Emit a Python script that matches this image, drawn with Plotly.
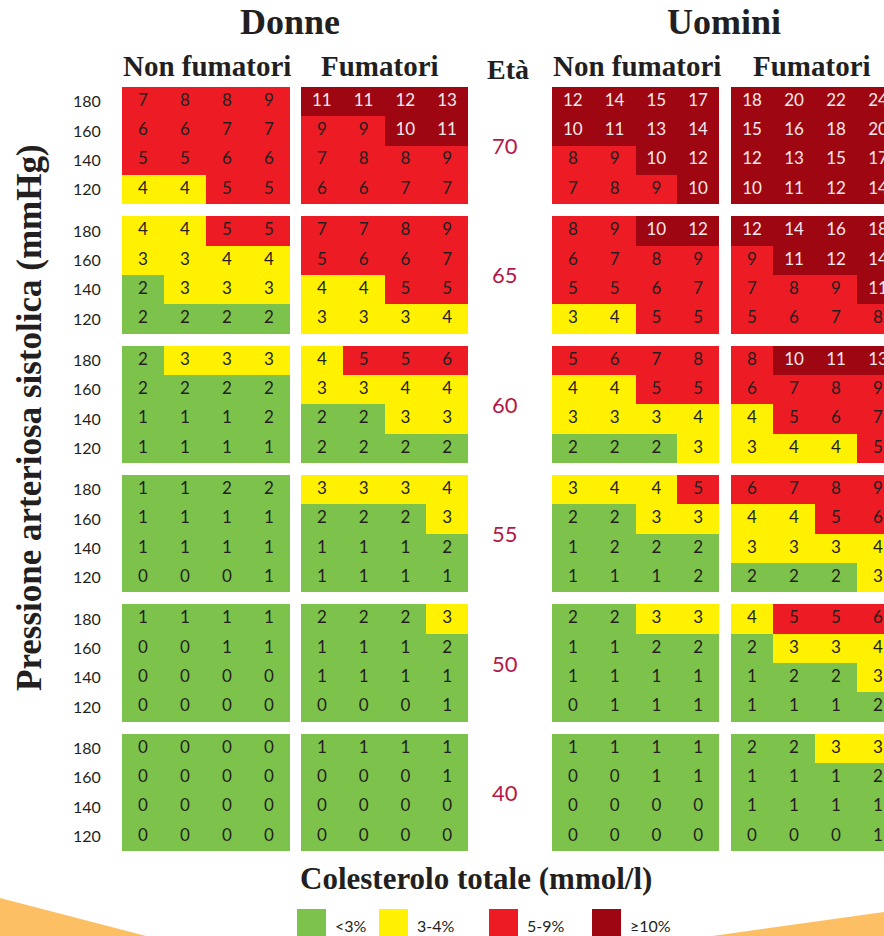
import plotly.graph_objects as go

# ---------------- data ----------------
ages = [70, 65, 60, 55, 50, 40]
sbp_labels = ["180", "160", "140", "120"]
chol = [4, 5, 6, 7]

women_nonsmokers = [
    [[7, 8, 8, 9], [6, 6, 7, 7], [5, 5, 6, 6], [4, 4, 5, 5]],
    [[4, 4, 5, 5], [3, 3, 4, 4], [2, 3, 3, 3], [2, 2, 2, 2]],
    [[2, 3, 3, 3], [2, 2, 2, 2], [1, 1, 1, 2], [1, 1, 1, 1]],
    [[1, 1, 2, 2], [1, 1, 1, 1], [1, 1, 1, 1], [0, 0, 0, 1]],
    [[1, 1, 1, 1], [0, 0, 1, 1], [0, 0, 0, 0], [0, 0, 0, 0]],
    [[0, 0, 0, 0], [0, 0, 0, 0], [0, 0, 0, 0], [0, 0, 0, 0]],
]
women_smokers = [
    [[11, 11, 12, 13], [9, 9, 10, 11], [7, 8, 8, 9], [6, 6, 7, 7]],
    [[7, 7, 8, 9], [5, 6, 6, 7], [4, 4, 5, 5], [3, 3, 3, 4]],
    [[4, 5, 5, 6], [3, 3, 4, 4], [2, 2, 3, 3], [2, 2, 2, 2]],
    [[3, 3, 3, 4], [2, 2, 2, 3], [1, 1, 1, 2], [1, 1, 1, 1]],
    [[2, 2, 2, 3], [1, 1, 1, 2], [1, 1, 1, 1], [0, 0, 0, 1]],
    [[1, 1, 1, 1], [0, 0, 0, 1], [0, 0, 0, 0], [0, 0, 0, 0]],
]
men_nonsmokers = [
    [[12, 14, 15, 17], [10, 11, 13, 14], [8, 9, 10, 12], [7, 8, 9, 10]],
    [[8, 9, 10, 12], [6, 7, 8, 9], [5, 5, 6, 7], [3, 4, 5, 5]],
    [[5, 6, 7, 8], [4, 4, 5, 5], [3, 3, 3, 4], [2, 2, 2, 3]],
    [[3, 4, 4, 5], [2, 2, 3, 3], [1, 2, 2, 2], [1, 1, 1, 2]],
    [[2, 2, 3, 3], [1, 1, 2, 2], [1, 1, 1, 1], [0, 1, 1, 1]],
    [[1, 1, 1, 1], [0, 0, 1, 1], [0, 0, 0, 0], [0, 0, 0, 0]],
]
men_smokers = [
    [[18, 20, 22, 24], [15, 16, 18, 20], [12, 13, 15, 17], [10, 11, 12, 14]],
    [[12, 14, 16, 18], [9, 11, 12, 14], [7, 8, 9, 11], [5, 6, 7, 8]],
    [[8, 10, 11, 13], [6, 7, 8, 9], [4, 5, 6, 7], [3, 4, 4, 5]],
    [[6, 7, 8, 9], [4, 4, 5, 6], [3, 3, 3, 4], [2, 2, 2, 3]],
    [[4, 5, 5, 6], [2, 3, 3, 4], [1, 2, 2, 3], [1, 1, 1, 2]],
    [[2, 2, 3, 3], [1, 1, 1, 2], [1, 1, 1, 1], [0, 0, 0, 1]],
]

legend_labels = ["<3%", "3-4%", "5-9%", "\u226510%"]

# ---------------- style / geometry ----------------
W, H = 884, 936


def px(X):
    return X / W


def py(Y):
    return 1 - Y / H


GREEN, YELLOW, RED, DARK = "#7DC24A", "#FFF100", "#ED1C24", "#9E0711"
TXT = "#231F20"
AGE_COL = "#B51848"
SERIF = "Liberation Serif, Times New Roman, serif"
SANS = "Lato, Open Sans, sans-serif"

ZMAX = 25.0
colorscale = [
    [0.0, GREEN], [2.5 / ZMAX, GREEN],
    [2.5 / ZMAX, YELLOW], [4.5 / ZMAX, YELLOW],
    [4.5 / ZMAX, RED], [9.5 / ZMAX, RED],
    [9.5 / ZMAX, DARK], [1.0, DARK],
]

GAP = 0.416  # gap between age blocks, in row units
block_starts = [b * (4 + GAP) for b in range(len(ages))]
YTOT = block_starts[-1] + 4

edges = []
for s in block_starts:
    for r in range(5):
        e = s + r
        if not edges or abs(edges[-1] - e) > 1e-9:
            edges.append(e)

centers = [s + r + 0.5 for s in block_starts for r in range(4)]


def zmatrix(group):
    z = []
    for b, block in enumerate(group):
        z.extend(block)
        if b < len(group) - 1:
            z.append([None] * 4)
    return z


groups = [women_nonsmokers, women_smokers, men_nonsmokers, men_smokers]
panel_px = [(122, 290), (301, 468), (552, 719), (731, W)]
col_w = 42.0
xranges = [[3.5, 7.5], [3.5, 7.5], [3.5, 7.5], [3.5, 3.5 + (W - 731) / col_w]]

fig = go.Figure()
for i, g in enumerate(groups):
    xa = "x" if i == 0 else f"x{i + 1}"
    fig.add_trace(go.Heatmap(
        z=zmatrix(g), x=chol, y=edges,
        colorscale=colorscale, zmin=0, zmax=ZMAX, showscale=False,
        xaxis=xa, yaxis="y", hoverinfo="skip",
    ))
    xs, ys, ts, cs = [], [], [], []
    for b, block in enumerate(g):
        for r, row in enumerate(block):
            for c, v in enumerate(row):
                xs.append(chol[c])
                ys.append(centers[b * 4 + r])
                ts.append(str(v))
                cs.append("#F7E9EB" if v >= 10 else TXT)
    fig.add_trace(go.Scatter(
        x=xs, y=ys, text=ts, mode="text", textposition="middle center",
        textfont=dict(family=SANS, size=17, color=cs),
        xaxis=xa, yaxis="y", hoverinfo="skip", showlegend=False,
    ))

layout_axes = {}
for i in range(4):
    key = "xaxis" if i == 0 else f"xaxis{i + 1}"
    x0, x1 = panel_px[i]
    layout_axes[key] = dict(domain=[px(x0), min(1.0, px(x1))], range=xranges[i],
                            visible=False, anchor="y", fixedrange=True)

fig.update_layout(**layout_axes)
fig.update_layout(
    width=W, height=H,
    margin=dict(l=0, r=0, t=0, b=0),
    paper_bgcolor="white", plot_bgcolor="rgba(0,0,0,0)",
    showlegend=False,
    yaxis=dict(
        domain=[py(851), py(87)], range=[YTOT, 0], anchor="x",
        tickmode="array", tickvals=centers, ticktext=sbp_labels * len(ages),
        ticks="outside", ticklen=17, tickcolor="rgba(0,0,0,0)",
        showgrid=False, zeroline=False, showline=False, fixedrange=True,
        tickfont=dict(family=SANS, size=16, color=TXT),
    ),
)

ann = []
for b, a in enumerate(ages):
    ann.append(dict(text=str(a), x=px(505), xref="paper", y=block_starts[b] + 2,
                    yref="y", showarrow=False,
                    font=dict(family=SANS, size=22, color=AGE_COL)))


def paper_text(t, x, y, size, angle=0):
    return dict(text=f"<b>{t}</b>", x=px(x), y=py(y), xref="paper", yref="paper",
                showarrow=False, textangle=angle,
                font=dict(family=SERIF, size=size, color=TXT),
                xanchor="center", yanchor="middle")


ann += [
    paper_text("Donne", 290, 22, 36),
    paper_text("Uomini", 724, 22, 36),
    paper_text("Non fumatori", 207, 66, 29),
    paper_text("Fumatori", 380, 66, 29),
    paper_text("Età", 508, 70, 28),
    paper_text("Non fumatori", 637, 66, 29),
    paper_text("Fumatori", 812, 66, 29),
    paper_text("Pressione arteriosa sistolica (mmHg)", 30, 418, 35, -90),
    paper_text("Colesterolo totale (mmol/l)", 476, 878, 31),
]

leg_colors = [GREEN, YELLOW, RED, DARK]
leg_x = [297, 379, 489, 592]
shapes = []
for lx, col, lab in zip(leg_x, leg_colors, legend_labels):
    shapes.append(dict(type="rect", xref="paper", yref="paper",
                       x0=px(lx), x1=px(lx + 29), y0=py(940), y1=py(909),
                       fillcolor=col, line=dict(width=0)))
    ann.append(dict(text=lab, x=px(lx + 36), y=py(925), xref="paper", yref="paper",
                    xanchor="left", yanchor="middle", showarrow=False,
                    font=dict(family=SANS, size=16, color=TXT)))


def p(x, y):
    return f"{px(x):.5f},{py(y):.5f}"


shapes.append(dict(type="path", xref="paper", yref="paper",
                   path=f"M {p(0, 898)} L {p(150, 937)} L {p(0, 937)} Z",
                   fillcolor="#FDBF63", line=dict(width=0), layer="below"))
shapes.append(dict(type="path", xref="paper", yref="paper",
                   path=f"M {p(705, 937)} L {p(884, 912)} L {p(884, 937)} Z",
                   fillcolor="#FDBF63", line=dict(width=0), layer="below"))

fig.update_layout(annotations=ann, shapes=shapes)
fig.write_html(
    "out.html",
    config={"displayModeBar": False, "staticPlot": True},
    post_script="document.body.style.margin='0';document.body.style.overflow='hidden';",
)
